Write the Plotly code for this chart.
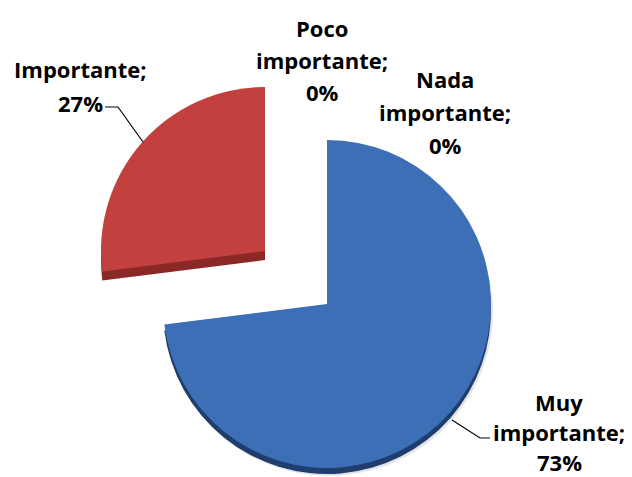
import plotly.graph_objects as go

# Survey answers and their shares (percent)
labels = ["Muy importante", "Importante", "Poco importante", "Nada importante"]
values = [73, 27, 0, 0]

# Label text per category, split over lines
label_lines = [
    ["Muy", "importante;"],
    ["Importante;"],
    ["Poco", "importante;"],
    ["Nada", "importante;"],
]

top_colors = ["#3C6FB5", "#C2413F"]
side_colors = ["#1F3E6E", "#8A2826"]

W, H = 632, 477
R = 164  # pie radius in px

# slice centres (px): the second slice is exploded up-left
centers = [(327, 304), (265, 251)]
depth = [6, 9]  # visible thickness of each slice


def domain_for(cx, cy, r=R):
    y0 = max(0.0, 1 - (cy + r) / H)
    y1 = min(1.0, 1 - (cy - r) / H)
    return dict(x=[(cx - r) / W, (cx + r) / W], y=[y0, y1])


def slice_colors(idx, color):
    return [color if i == idx else "rgba(0,0,0,0)" for i in range(len(values))]


fig = go.Figure()

common = dict(labels=labels, values=values, sort=False, direction="clockwise",
              rotation=0, textinfo="none", hoverinfo="skip", showlegend=False)

# soft drop shadow below the main slice
cx, cy = centers[0]
fig.add_trace(go.Pie(**common, domain=domain_for(cx + 2, cy + 8),
                     marker=dict(colors=slice_colors(0, "rgba(0,0,0,0.10)"),
                                 line=dict(width=0))))

# side faces (thickness) of each slice
for i in range(2):
    cx, cy = centers[i]
    fig.add_trace(go.Pie(**common, domain=domain_for(cx, cy + depth[i]),
                         marker=dict(colors=slice_colors(i, side_colors[i]),
                                     line=dict(width=0))))

# top faces
for i in range(2):
    cx, cy = centers[i]
    fig.add_trace(go.Pie(**common, domain=domain_for(cx, cy),
                         marker=dict(colors=slice_colors(i, top_colors[i]),
                                     line=dict(width=0))))

# data labels: "<category>; <percent>", one annotation per text line
label_pos = [(559, 432), (80, 86), (322, 60), (445, 112)]
line_gap = [30, 33, 32, 33]
total = sum(values)
annotations = []
for i, (px, py) in enumerate(label_pos):
    pct = f"{round(100 * values[i] / total)}%"
    lines = label_lines[i] + [pct]
    n = len(lines)
    for k, line in enumerate(lines):
        ly = py + (k - (n - 1) / 2) * line_gap[i]
        annotations.append(dict(
            x=px / W, y=1 - ly / H, xref="paper", yref="paper",
            xanchor="center", yanchor="middle", showarrow=False,
            text=line,
            font=dict(family="Open Sans", size=22, color="#000000",
                      weight="bold"),
        ))

# leader lines for the two non-zero slices
leaders = [
    [(452, 420), (480, 438), (490, 438)],
    [(105, 107), (118, 107), (143, 142)],
]
shapes = []
for pts in leaders:
    path = "M " + " L ".join(f"{x / W:.4f},{1 - y / H:.4f}" for x, y in pts)
    shapes.append(dict(type="path", path=path, xref="paper", yref="paper",
                       line=dict(color="#000000", width=1.2)))

fig.update_layout(
    width=W, height=H,
    margin=dict(l=0, r=0, t=0, b=0),
    paper_bgcolor="white", plot_bgcolor="white",
    annotations=annotations, shapes=shapes,
)

fig.write_html("out.html")
